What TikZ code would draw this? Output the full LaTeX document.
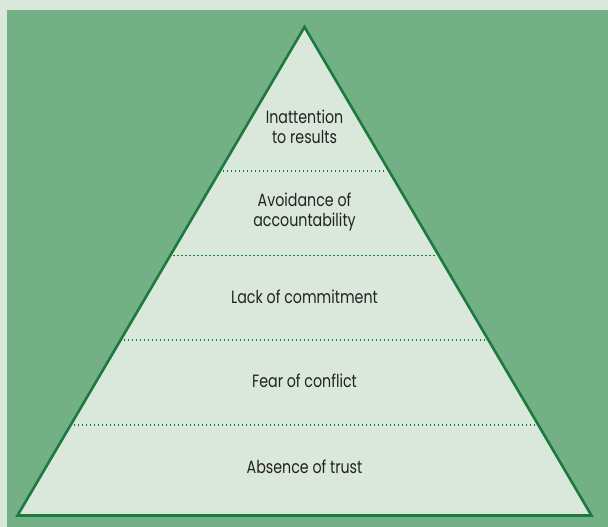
\documentclass[tikz,border=0pt]{standalone}
\usepackage{fontspec}
\setmainfont[FakeStretch=0.8]{Poppins}
\usetikzlibrary{calc}
\definecolor{pagepale}{HTML}{DAE7DB}
\definecolor{panelgreen}{HTML}{74B085}
\definecolor{edgegreen}{HTML}{1B7A3E}
\definecolor{inkgray}{HTML}{222222}
\tikzset{
  layertext/.style={text=inkgray, font=\fontsize{17.8}{20.5}\selectfont, align=center, inner sep=0pt},
  outline/.style={draw=edgegreen, line width=2.6pt, line join=miter, fill=pagepale},
  divider/.style={draw=edgegreen, line width=1.7pt, dash pattern=on 1.4pt off 2.6pt}
}
\begin{document}
\begin{tikzpicture}[x=1pt,y=-1pt]
  \useasboundingbox (0,0) rectangle (608,527);
  \fill[pagepale] (0,0) rectangle (608,527);
  \fill[panelgreen] (7,10) rectangle (608,527);

  \coordinate (apex) at (304.5,27);
  \coordinate (bl) at (17.5,515.5);
  \coordinate (br) at (591.5,515.5);
  \draw[outline] (apex) -- (bl) -- (br) -- cycle;

  % level separators
  \foreach \t [count=\i] in {0.2948,0.4678,0.6407,0.8147}{
    \coordinate (l\i) at ($(apex)!\t!(bl)$);
    \coordinate (r\i) at ($(apex)!\t!(br)$);
    \draw[divider] ($(l\i)+(3,0)$) -- ($(r\i)+(-3,0)$);
  }

  \node[layertext] (results) at (304.5,127) {Inattention\\to results};
  \node[layertext] (account) at (304.5,212) {Avoidance of\\accountability};
  \node[layertext] (commit) at (304.5,296.5) {Lack of commitment};
  \node[layertext] (conflict) at (304.5,380.5) {Fear of conflict};
  \node[layertext] (trust) at (304.5,467) {Absence of trust};
\end{tikzpicture}
\end{document}
